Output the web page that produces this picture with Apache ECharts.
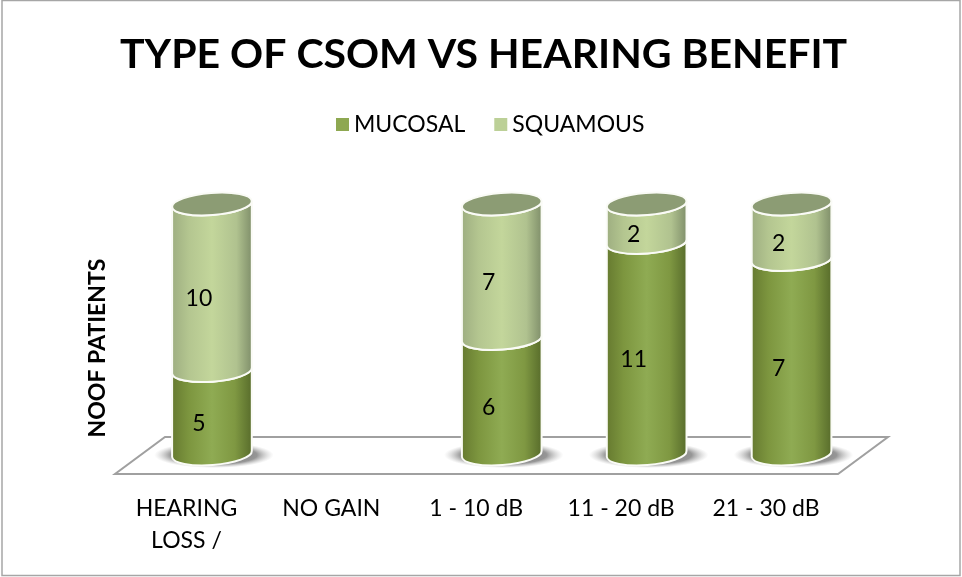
<!DOCTYPE html>
<html>
<head>
<meta charset="utf-8">
<title>Type of CSOM vs hearing benefit</title>
<script src="https://cdn.jsdelivr.net/npm/echarts@6/dist/echarts.min.js"></script>
<style>
  html, body { margin: 0; padding: 0; background: #fff; }
  #chart { width: 962px; height: 577px; }
</style>
</head>
<body>
<div id="chart"></div>
<script>
const categories = ['HEARING\nLOSS /', 'NO GAIN', '1 - 10 dB', '11 - 20 dB', '21 - 30 dB']
const mucosal = [5, 0, 6, 11, 7]
const squamous = [10, 0, 7, 2, 2]

const font = 'Lato, "Open Sans", sans-serif'
const tilt = 3        // px the ellipse rises from left to right edge
const ry = 11

const mucosalStops = [
  { offset: 0, color: '#65792f' },
  { offset: 0.22, color: '#7d963f' },
  { offset: 0.5, color: '#8fab53' },
  { offset: 0.78, color: '#7f9842' },
  { offset: 1, color: '#566a2a' }
]
const squamousStops = [
  { offset: 0, color: '#9dad80' },
  { offset: 0.22, color: '#b4c690' },
  { offset: 0.5, color: '#c3d69b' },
  { offset: 0.8, color: '#b0c28f' },
  { offset: 1, color: '#7d8c68' }
]

const pct = (v, i) => {
  const total = mucosal[i] + squamous[i]
  return total ? (v / total) * 100 : 0
}
const mucosalData = mucosal.map((v, i) => [i, 0, pct(v, i), v])
const squamousData = squamous.map((v, i) => [i, pct(mucosal[i], i), 100, v])

const ellipseArc = (rx, h, angle, x, y, sweep) =>
  `A${rx} ${h} ${angle} 0 ${sweep} ${x} ${y}`

const renderCylinder = (stops, isTop) => (params, api) => {
  const raw = api.value(3)
  if (!raw) return null
  const i = api.value(0)
  const start = api.coord([i, api.value(1)])
  const end = api.coord([i, api.value(2)])
  const rx = api.size([1, 0])[0] * 0.275
  const cx = start[0]
  const angle = -Math.atan2(tilt, rx) * 180 / Math.PI
  const xl = cx - rx
  const xr = cx + rx
  const body = `M${xl} ${start[1] + tilt}` +
    ellipseArc(rx, ry, angle, xr, start[1] - tilt, 0) +
    `L${xr} ${end[1] - tilt}` +
    ellipseArc(rx, ry, angle, xl, end[1] + tilt, 1) + 'Z'

  const children = []
  if (!isTop) {
    // soft shadow under the cylinder base: a circle squashed into an ellipse
    children.push({
      type: 'circle',
      x: cx + 2,
      y: start[1] + 1,
      scaleX: rx * 1.5 / 13,
      shape: { cx: 0, cy: 0, r: 13 },
      style: {
        fill: {
          type: 'radial', x: 0.5, y: 0.5, r: 0.5,
          colorStops: [
            { offset: 0, color: 'rgba(85,85,85,0.9)' },
            { offset: 0.72, color: 'rgba(115,115,115,0.75)' },
            { offset: 1, color: 'rgba(180,180,180,0)' }
          ]
        }
      }
    })
  }
  children.push({
    type: 'path',
    shape: { pathData: body },
    style: {
      fill: { type: 'linear', x: 0, y: 0, x2: 1, y2: 0, colorStops: stops },
      stroke: '#fafbf6',
      lineWidth: 2
    }
  })
  if (isTop) {
    const lid = `M${xl} ${end[1] + tilt}` +
      ellipseArc(rx, ry, angle, xr, end[1] - tilt, 1) +
      ellipseArc(rx, ry, angle, xl, end[1] + tilt, 1) + 'Z'
    children.push({
      type: 'path',
      shape: { pathData: lid },
      style: { fill: '#8c9c74', stroke: '#fafbf6', lineWidth: 2 }
    })
  }
  const mid = api.coord([i, (api.value(1) + api.value(2)) / 2])
  children.push({
    type: 'text',
    style: {
      text: String(raw),
      x: cx - 13,
      y: mid[1] + 11.5,
      fill: '#000',
      font: `23px ${font}`,
      textAlign: 'center',
      textVerticalAlign: 'middle'
    }
  })
  return { type: 'group', children }
}

// flat floor under the columns, sized from the plot rectangle
const renderFloor = (params) => {
  const g = params.coordSys
  const base = g.y + g.height
  return {
    type: 'polygon',
    shape: {
      points: [
        [g.x + 25.5, base - 17],
        [g.x + g.width + 24, base - 17],
        [g.x + g.width - 26, base + 20],
        [g.x - 24.5, base + 20]
      ]
    },
    style: { fill: '#fff', stroke: '#a0a0a0', lineWidth: 2 }
  }
}

const chart = echarts.init(document.getElementById('chart'))
chart.setOption({
  animation: false,
  backgroundColor: '#fff',
  title: {
    text: 'TYPE OF CSOM VS HEARING BENEFIT',
    left: 115,
    top: 29,
    textStyle: { fontFamily: font, fontWeight: 'bold', fontSize: 41, color: '#000' }
  },
  legend: {
    data: ['MUCOSAL', 'SQUAMOUS'],
    left: 331,
    top: 108,
    itemWidth: 13,
    itemHeight: 13,
    itemGap: 29,
    icon: 'rect',
    textStyle: { fontFamily: font, fontSize: 23, color: '#000' }
  },
  grid: { left: 139.5, top: 204, width: 724.5, height: 250 },
  xAxis: {
    type: 'category',
    data: categories,
    axisLine: { show: false },
    axisTick: { show: false },
    axisLabel: {
      interval: 0,
      margin: 39,
      padding: [0, 51, 0, 0],
      fontFamily: font,
      fontSize: 23,
      lineHeight: 32,
      color: '#000'
    }
  },
  yAxis: {
    type: 'value',
    min: 0,
    max: 100,
    name: 'NOOF PATIENTS',
    nameLocation: 'middle',
    nameGap: 30,
    nameRotate: 90,
    nameTextStyle: {
      fontFamily: font,
      fontWeight: 'bold',
      fontSize: 23,
      color: '#000',
      padding: [0, 38, 0, 0]
    },
    axisLine: { show: false },
    axisTick: { show: false },
    axisLabel: { show: false },
    splitLine: { show: false }
  },
  series: [
    {
      name: 'floor',
      type: 'custom',
      z: 1,
      silent: true,
      renderItem: renderFloor,
      data: [[0, 0]],
      encode: { x: 0, y: 1 }
    },
    {
      name: 'MUCOSAL',
      type: 'custom',
      z: 2,
      renderItem: renderCylinder(mucosalStops, false),
      itemStyle: { color: '#8ea851' },
      data: mucosalData,
      encode: { x: 0, y: [1, 2] }
    },
    {
      name: 'SQUAMOUS',
      type: 'custom',
      z: 3,
      renderItem: renderCylinder(squamousStops, true),
      itemStyle: { color: '#bcd097' },
      data: squamousData,
      encode: { x: 0, y: [1, 2] }
    }
  ],
  graphic: [
    {
      type: 'rect',
      silent: true,
      z: 10,
      shape: { x: 2, y: 0.5, width: 958, height: 575 },
      style: { fill: 'none', stroke: '#a6a6a6', lineWidth: 1.5 }
    }
  ]
})
</script>
</body>
</html>
